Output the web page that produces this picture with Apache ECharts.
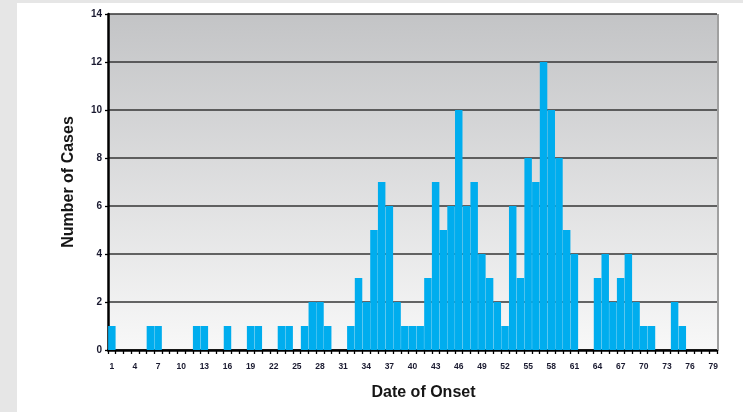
<!DOCTYPE html>
<html><head><meta charset="utf-8">
<script src="https://cdn.jsdelivr.net/npm/echarts@6/dist/echarts.min.js"></script>
<style>
html,body{margin:0;padding:0;background:#e6e6e6;width:743px;height:412px;overflow:hidden;}
#panel{position:absolute;left:17px;top:3px;width:726px;height:409px;background:#ffffff;}
#chart{position:absolute;left:0;top:0;width:743px;height:412px;}
</style></head>
<body>
<div id="panel"></div>
<div id="chart"></div>
<script>
const days = ['1','2','3','4','5','6','7','8','9','10','11','12','13','14','15','16','17','18','19','20',
  '21','22','23','24','25','26','27','28','29','30','31','32','33','34','35','36','37','38','39','40',
  '41','42','43','44','45','46','47','48','49','50','51','52','53','54','55','56','57','58','59','60',
  '61','62','63','64','65','66','67','68','69','70','71','72','73','74','75','76','77','78','79'];
const cases = [1,0,0,0,0,1,1,0,0,0,0,1,1,0,0,1,0,0,1,1,
  0,0,1,1,0,1,2,2,1,0,0,1,3,2,5,7,6,2,1,1,
  1,3,7,5,6,10,6,7,4,3,2,1,6,3,8,7,12,10,8,5,
  4,0,0,3,4,2,3,4,2,1,1,0,0,2,1,0,0,0,0];
const yTicks = [0,2,4,6,8,10,12,14];
const xTitle = 'Date of Onset';
const yTitle = 'Number of Cases';

const chart = echarts.init(document.getElementById('chart'), null, {renderer:'canvas'});
const labelColor = '#1a1a30';
chart.setOption({
  animation:false,
  backgroundColor:'transparent',
  grid:{left:108,right:26,top:14,bottom:62,show:true,borderWidth:0,
    backgroundColor:{type:'linear',x:0,y:0,x2:0,y2:1,colorStops:[{offset:0,color:'#c3c4c6'},{offset:1,color:'#f8f8f8'}]}},
  xAxis:{type:'category',data:days,
    name:xTitle,nameLocation:'middle',nameGap:35,
    nameTextStyle:{fontFamily:'Liberation Sans',fontWeight:'bold',fontSize:16,color:'#151515',padding:[0,0,0,22]},
    axisLine:{lineStyle:{color:'#000',width:2.5}},
    axisTick:{show:true,interval:0,length:4,lineStyle:{color:'#000',width:1.3}},
    axisLabel:{interval:2,margin:12,fontFamily:'Liberation Sans',fontWeight:'bold',fontSize:8.5,color:labelColor},
    splitLine:{show:false}},
  yAxis:{type:'value',min:0,max:14,interval:2,
    name:yTitle,nameLocation:'middle',nameGap:31,nameRotate:90,
    nameTextStyle:{fontFamily:'Liberation Sans',fontWeight:'bold',fontSize:16,color:'#151515'},
    axisLine:{show:true,lineStyle:{color:'#000',width:2.5}},
    axisTick:{show:true,length:3,lineStyle:{color:'#000',width:1.3}},
    axisLabel:{margin:6,fontFamily:'Liberation Sans',fontWeight:'bold',fontSize:10,color:labelColor,
      formatter:function(v){return yTicks.indexOf(v)>=0?String(v):'';}},
    splitLine:{show:true,lineStyle:{color:'#353535',width:1.6}}},
  series:[{type:'bar',data:cases,barCategoryGap:'3%',
    itemStyle:{color:'#00adee',borderWidth:0}}],
  graphic:[{type:'rect',shape:{x:717,y:14,width:2,height:336},style:{fill:'#a0a0a0'},z:10}]
});
</script>
</body></html>
